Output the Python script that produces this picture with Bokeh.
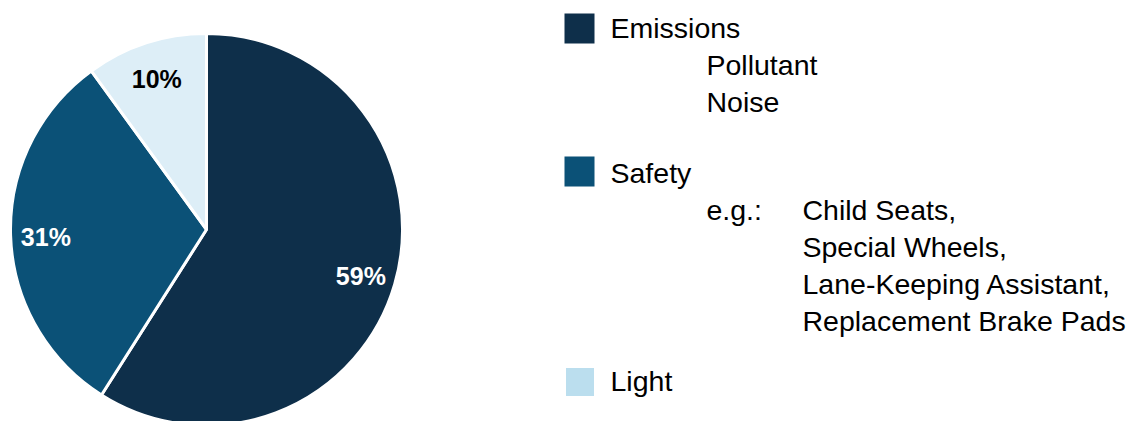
import math
from bokeh.plotting import figure
from bokeh.models import Range1d, ColumnDataSource
from bokeh.core.properties import value
from bokeh.embed import file_html
from bokeh.resources import INLINE

# Shares of the three categories, drawn clockwise from 12 o'clock
categories = ["Emissions", "Safety", "Light"]
shares = [59, 31, 10]
slice_colors = ["#0E2F4A", "#0B5177", "#DDEEF7"]
label_colors = ["white", "white", "black"]

# Legend swatches and the sub-items listed under each category
legend_colors = ["#0E2F4A", "#0B5177", "#BBDEEE"]
emission_items = ["Pollutant", "Noise"]
safety_prefix = "e.g.:"
safety_items = ["Child Seats,", "Special Wheels,", "Lane-Keeping Assistant,",
                "Replacement Brake Pads"]

W, H = 1146, 421
FONT = "Liberation Sans"

p = figure(width=W, height=H, output_backend="svg", toolbar_location=None,
           x_range=Range1d(0, W), y_range=Range1d(0, H),
           min_border=0, outline_line_color=None)
p.axis.visible = False
p.grid.visible = False
p.background_fill_color = "white"
p.border_fill_color = "white"


def Y(top):
    """Convert a distance from the top edge into a data y value."""
    return H - top


# ---- pie ----
cx, cy, R = 206, Y(229), 196
total = sum(shares)
starts, ends, lx, ly, texts = [], [], [], [], []
acc = 0.0
for s in shares:
    a0 = acc / total * 2 * math.pi          # clockwise angle from the top
    acc += s
    a1 = acc / total * 2 * math.pi
    starts.append(math.pi / 2 - a0)
    ends.append(math.pi / 2 - a1)
    mid = (a0 + a1) / 2
    r = 0.82 * R
    lx.append(cx + r * math.sin(mid))
    ly.append(cy + r * math.cos(mid) - 2)
    texts.append(f"{s}%")

pie = ColumnDataSource(dict(start=starts, end=ends, color=slice_colors))
p.wedge(x=cx, y=cy, radius=R, start_angle="start", end_angle="end",
        direction="clock", fill_color="color", line_color="white",
        line_width=3, source=pie)

lab = ColumnDataSource(dict(x=lx, y=ly, t=texts, c=label_colors))
p.text(x="x", y="y", text="t", text_color="c", source=lab,
       text_font=value(FONT), text_font_style="bold", text_font_size="25px",
       text_align="center", text_baseline="middle")

# ---- legend ----
sw_x = [579, 579, 579.5]
sw_y = [Y(28), Y(171), Y(381.5)]
sw_size = [30, 30, 28]
p.rect(x=sw_x, y=sw_y, width=sw_size, height=sw_size, fill_color=legend_colors,
       line_color=None)

step = 36.9
b_em, b_sa, b_li = 27.5, 172.5, 380
txt_x, txt_y, txt = [], [], []
# main category names
for name, base in zip(categories, [b_em, b_sa, b_li]):
    txt_x.append(610); txt_y.append(Y(base)); txt.append(name)
# emission sub-items
for i, item in enumerate(emission_items):
    txt_x.append(706); txt_y.append(Y(b_em + step * (i + 1))); txt.append(item)
# safety examples
txt_x.append(706); txt_y.append(Y(b_sa + step)); txt.append(safety_prefix)
for i, item in enumerate(safety_items):
    txt_x.append(802); txt_y.append(Y(b_sa + step * (i + 1))); txt.append(item)

p.text(x=txt_x, y=txt_y, text=txt, text_color="black",
       text_font=value(FONT), text_font_size="28.5px",
       text_align="left", text_baseline="alphabetic")

open("out.html", "w").write(file_html(p, INLINE))
